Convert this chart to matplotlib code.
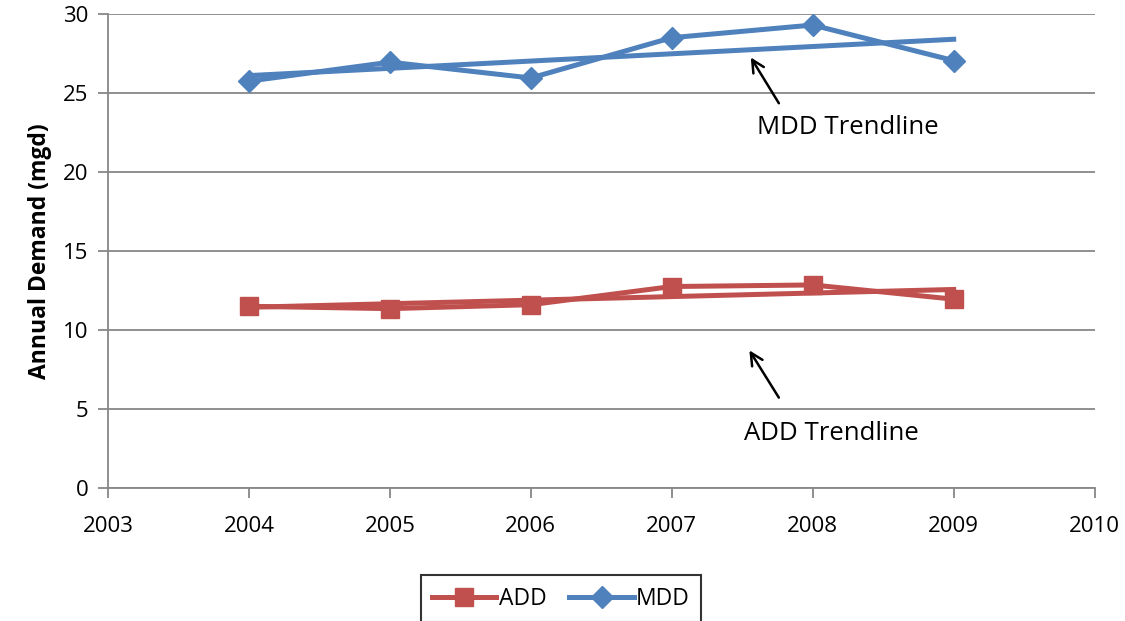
import numpy as np
import matplotlib.pyplot as plt

plt.rcParams['font.family'] = ['Open Sans', 'DejaVu Sans']

# dados
years = [2004, 2005, 2006, 2007, 2008, 2009]
add = [11.5, 11.35, 11.6, 12.75, 12.85, 11.95]
mdd = [25.75, 26.95, 25.95, 28.5, 29.3, 27.05]

RED = "#C0504D"
BLUE = "#4F81BD"

# linhas de tendencia (regressao linear)
add_fit = np.polyval(np.polyfit(years, add, 1), years)
mdd_fit = np.polyval(np.polyfit(years, mdd, 1), years)

fig = plt.figure(figsize=(11.25, 6.21), dpi=100)
ax = fig.add_axes([0.096, 0.2142, 0.877, 0.7633])

ax.plot(years, add, color=RED, lw=3.6, marker="s", ms=13, label="ADD", zorder=3)
ax.plot(years, mdd, color=BLUE, lw=3.6, marker="D", ms=11, label="MDD", zorder=3)
ax.plot(years, add_fit, color=RED, lw=3.6, zorder=2)
ax.plot(years, mdd_fit, color=BLUE, lw=3.6, zorder=2)

ax.set_xlim(2003, 2010)
ax.set_ylim(0, 30)
ax.set_xticks(range(2003, 2011))
ax.set_yticks(range(0, 31, 5))
ax.grid(axis="y", color="#878787", lw=1.3)
ax.set_axisbelow(True)
for s in ["top", "right"]:
    ax.spines[s].set_visible(False)
for s in ["left", "bottom"]:
    ax.spines[s].set_color("#878787")
    ax.spines[s].set_linewidth(1.3)
ax.tick_params(axis="both", colors="#878787", length=7, width=1.3, labelsize=16,
               labelcolor="black")
ax.tick_params(axis="x", pad=13)
ax.tick_params(axis="y", pad=7)
ax.set_ylabel("Annual Demand (mgd)", fontsize=16.5, fontweight="bold", labelpad=8)

# anotacoes
ax.annotate("", xy=(2007.55, 27.4), xytext=(2007.77, 24.2),
            arrowprops=dict(arrowstyle="->", color="black", lw=1.8, mutation_scale=22))
ax.text(2008.25, 22.8, "MDD Trendline", fontsize=18.5, ha="center", va="center")
ax.annotate("", xy=(2007.54, 8.86), xytext=(2007.77, 5.57),
            arrowprops=dict(arrowstyle="->", color="black", lw=1.8, mutation_scale=22))
ax.text(2008.13, 3.47, "ADD Trendline", fontsize=18.5, ha="center", va="center")

leg = fig.legend(loc="upper center", bbox_to_anchor=(0.4987, 1 - 564 / 621), ncol=2,
                 fontsize=16.5, frameon=True, fancybox=False, edgecolor="black",
                 handlelength=2.8, columnspacing=1.0, handletextpad=0.1,
                 borderpad=0.5)
leg.get_frame().set_linewidth(1.5)

plt.savefig("out.png", dpi=100)
